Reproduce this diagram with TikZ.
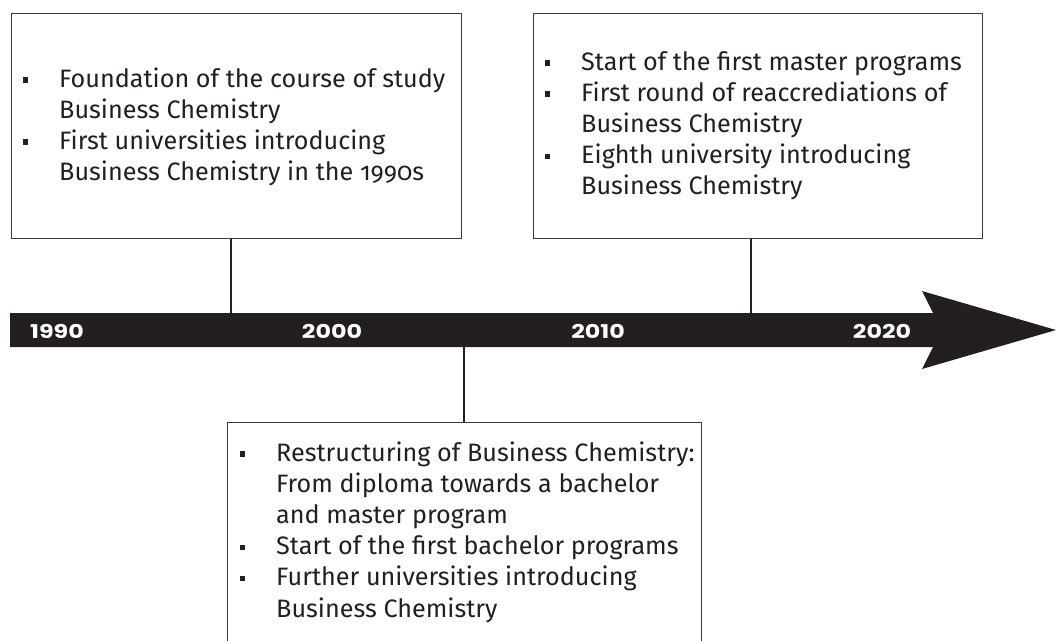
\documentclass[tikz,border=0pt]{standalone}
\usepackage{fontspec}
\usepackage{graphicx}
\setmainfont{Fira Sans}[Numbers=OldStyle]
\newfontfamily\yearfont{Poppins}
\definecolor{ink}{HTML}{231F20}
\definecolor{frame}{HTML}{3A3A3A}
\newlength\itind
\setlength\itind{37pt}
\newcommand{\bitem}[1]{\par\noindent\hangindent=\itind\hangafter=1\makebox[\itind][l]{\hspace{0.5pt}\rule[4.5pt]{5.5pt}{5.5pt}}#1\par}
\newcommand{\blist}[1]{\begin{minipage}[t]{480pt}\fontsize{25.2}{31.2}\selectfont\parindent=0pt\parskip=0pt #1\end{minipage}}
\newcommand{\yr}[1]{\scalebox{1.25}[1]{#1}}
\tikzset{
  box/.style={draw=frame, line width=1.3pt, fill=white, inner sep=0pt, anchor=north west},
  conn/.style={draw=ink, line width=1.8pt},
  year/.style={text=white, font=\yearfont\bfseries\fontsize{19}{19}\selectfont, inner sep=0pt},
  list/.style={anchor=base west, inner sep=0pt, text=ink}
}
\begin{document}
\begin{tikzpicture}[x=1pt,y=-1pt]
\useasboundingbox (0,0) rectangle (1056,640);
\clip (0,0) rectangle (1056,640);
% timeline arrow
\fill[ink] (10,313) -- (933,313) -- (922,291) -- (1056,330) -- (922,369) -- (933,347) -- (10,347) -- cycle;
\node[year] (y1990) at (57,331) {\yr{1990}};
\node[year] (y2000) at (332,331) {\yr{2000}};
\node[year] (y2010) at (598,331) {\yr{2010}};
\node[year] (y2020) at (882,331) {\yr{2020}};
% anchor points on the bar
\coordinate (p1) at (231,313);
\coordinate (p2) at (751,313);
\coordinate (p3) at (464,347);
% boxes
\node[box, minimum width=450pt, minimum height=225pt] (b1) at (11,13) {};
\node[box, minimum width=449pt, minimum height=225pt] (b2) at (533,13) {};
\node[box, minimum width=474pt, minimum height=240pt] (b3) at (227,422) {};
% connectors
\draw[conn] (b1.south -| p1) -- (p1);
\draw[conn] (b2.south -| p2) -- (p2);
\draw[conn] (p3) -- (b3.north -| p3);
% texts
\node[list] (t1) at (22,87) {\blist{%
\bitem{Foundation of the course of study\newline Business Chemistry}
\bitem{First universities introducing\newline Business Chemistry in the 1990s}}};
\node[list] (t2) at (544,70) {\blist{%
\bitem{Start of the first master programs}
\bitem{First round of reaccrediations of\newline Business Chemistry}
\bitem{Eighth university introducing\newline Business Chemistry}}};
\node[list] (t3) at (239,461) {\blist{%
\bitem{Restructuring of Business Chemistry:\newline From diploma towards a bachelor\newline and master program}
\bitem{Start of the first bachelor programs}
\bitem{Further universities introducing\newline Business Chemistry}}};
\end{tikzpicture}
\end{document}
